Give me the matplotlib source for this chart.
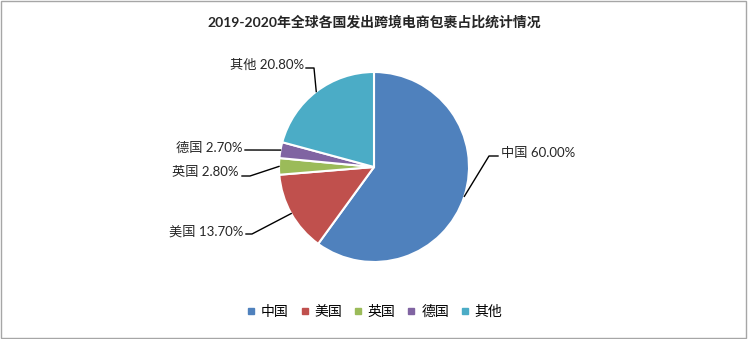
import numpy as np
import matplotlib
matplotlib.use('Agg')
import matplotlib.pyplot as plt
from matplotlib.lines import Line2D
from matplotlib.patches import Rectangle

plt.rcParams['font.family'] = ['Lato', 'Noto Sans CJK SC', 'DejaVu Sans']

# data
countries = ['中国', '美国', '英国', '德国', '其他']
shares = [60.00, 13.70, 2.80, 2.70, 20.80]
colors = ['#4F81BD', '#C0504D', '#9BBB59', '#8064A2', '#4BACC6']
title = '2019-2020年全球各国发出跨境电商包裹占比统计情况'

W, H = 748, 339
cx, cy, R = 374, 167, 95  # pie centre / radius in pixels

fig = plt.figure(figsize=(W / 100, H / 100), dpi=100)
ax = fig.add_axes([0, 0, 1, 1])


def px(x, y):
    # pixel -> data coords
    return (x - cx) / R, (cy - y) / R


wedges, _ = ax.pie(shares, colors=colors, startangle=90, counterclock=False,
                   radius=1, wedgeprops=dict(edgecolor='white', linewidth=1.5))
ax.set_aspect('auto')
ax.set_xlim(-cx / R, (W - cx) / R)
ax.set_ylim(-(H - cy) / R, cy / R)
ax.axis('off')

# label layout: text anchor (pixels), elbow points (pixels), alignment
layout = {
    '中国': dict(text=(501, 153), elbow=[(498, 156), (489, 156)], ha='left'),
    '美国': dict(text=(243, 231), elbow=[(246, 234), (252, 234)], ha='right'),
    '英国': dict(text=(238, 172), elbow=[(242, 176), (250, 176)], ha='right'),
    '德国': dict(text=(243, 148), elbow=[(245, 150)], ha='right'),
    '其他': dict(text=(304, 65), elbow=[(306, 68), (314, 68)], ha='right'),
}

for w, name, val in zip(wedges, countries, shares):
    ang = np.deg2rad((w.theta1 + w.theta2) / 2)
    ex, ey = np.cos(ang), np.sin(ang)
    lay = layout[name]
    pts = [px(*p) for p in lay['elbow']] + [(ex, ey)]
    ax.plot([p[0] for p in pts], [p[1] for p in pts], color='black', lw=1)
    tx, ty = px(*lay['text'])
    ax.text(tx, ty, f'{name} {val:.2f}%', ha=lay['ha'], va='center',
            fontsize=9.5, color='#262626')

fig.text(0.5, 1 - 22 / H, title, ha='center', va='center', fontsize=10,
         fontweight='bold', color='#262626')

handles = [Line2D([], [], marker='s', linestyle='none', markersize=4.5,
                  markerfacecolor=c, markeredgecolor=c) for c in colors]
fig.legend(handles, countries, loc='center', bbox_to_anchor=(0.5, 1 - 311 / H),
           ncol=5, frameon=False, fontsize=10, handletextpad=0.3,
           columnspacing=0.75, handlelength=0.8)

fig.patches.append(Rectangle((0.002, 0.003), 0.995, 0.993, transform=fig.transFigure,
                             fill=False, edgecolor='#a6a6a6', lw=1))

fig.savefig('out.png', dpi=100, facecolor='white')
